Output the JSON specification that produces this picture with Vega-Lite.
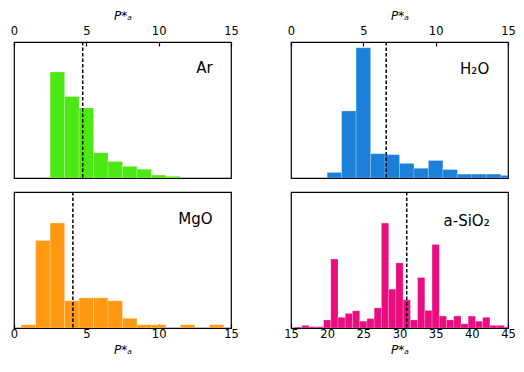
{
  "$schema": "https://vega.github.io/schema/vega-lite/v6.json",
  "padding": {"left": 9, "top": 8, "right": 0, "bottom": 0},
  "background": "white",
  "config": {
    "view": {"stroke": "black", "strokeWidth": 1.2},
    "font": "DejaVu Sans",
    "axis": {"labelColor": "black", "titleColor": "black", "labelFont": "DejaVu Sans", "titleFont": "DejaVu Sans", "labelFontSize": 11.5, "titleFontSize": 12, "titleFontWeight": "normal", "titleFontStyle": "italic", "labelFlush": false, "tickSize": -4, "tickColor": "black", "tickWidth": 1.2, "domain": false, "grid": false}
  },
  "datasets": {
    "bars": [
      {"panel": "Ar", "lo": 2.5, "hi": 3.5, "h": 109},
      {"panel": "Ar", "lo": 3.5, "hi": 4.5, "h": 84},
      {"panel": "Ar", "lo": 4.5, "hi": 5.5, "h": 72},
      {"panel": "Ar", "lo": 5.5, "hi": 6.5, "h": 26},
      {"panel": "Ar", "lo": 6.5, "hi": 7.5, "h": 17},
      {"panel": "Ar", "lo": 7.5, "hi": 8.5, "h": 12},
      {"panel": "Ar", "lo": 8.5, "hi": 9.5, "h": 9},
      {"panel": "Ar", "lo": 9.5, "hi": 10.5, "h": 3},
      {"panel": "Ar", "lo": 10.5, "hi": 11.5, "h": 1.7},
      {"panel": "H2O", "lo": 2.5, "hi": 3.5, "h": 5.7},
      {"panel": "H2O", "lo": 3.5, "hi": 4.5, "h": 69},
      {"panel": "H2O", "lo": 4.5, "hi": 5.5, "h": 134},
      {"panel": "H2O", "lo": 5.5, "hi": 6.5, "h": 25},
      {"panel": "H2O", "lo": 6.5, "hi": 7.5, "h": 24},
      {"panel": "H2O", "lo": 7.5, "hi": 8.5, "h": 15},
      {"panel": "H2O", "lo": 8.5, "hi": 9.5, "h": 10},
      {"panel": "H2O", "lo": 9.5, "hi": 10.5, "h": 18},
      {"panel": "H2O", "lo": 10.5, "hi": 11.5, "h": 8.7},
      {"panel": "H2O", "lo": 11.5, "hi": 12.5, "h": 4},
      {"panel": "H2O", "lo": 12.5, "hi": 13.5, "h": 4},
      {"panel": "H2O", "lo": 13.5, "hi": 14.5, "h": 4},
      {"panel": "H2O", "lo": 14.5, "hi": 15.5, "h": 2.7},
      {"panel": "MgO", "lo": 0.5, "hi": 1.5, "h": 3.3},
      {"panel": "MgO", "lo": 1.5, "hi": 2.5, "h": 90},
      {"panel": "MgO", "lo": 2.5, "hi": 3.5, "h": 108},
      {"panel": "MgO", "lo": 3.5, "hi": 4.5, "h": 28},
      {"panel": "MgO", "lo": 4.5, "hi": 5.5, "h": 31},
      {"panel": "MgO", "lo": 5.5, "hi": 6.5, "h": 31},
      {"panel": "MgO", "lo": 6.5, "hi": 7.5, "h": 28},
      {"panel": "MgO", "lo": 7.5, "hi": 8.5, "h": 10},
      {"panel": "MgO", "lo": 8.5, "hi": 9.5, "h": 3.3},
      {"panel": "MgO", "lo": 9.5, "hi": 10.5, "h": 3.3},
      {"panel": "MgO", "lo": 11.5, "hi": 12.5, "h": 3.3},
      {"panel": "MgO", "lo": 13.5, "hi": 14.5, "h": 3.3},
      {"panel": "SiO2", "lo": 15.5, "hi": 16.5, "h": 1},
      {"panel": "SiO2", "lo": 16.5, "hi": 17.5, "h": 2.7},
      {"panel": "SiO2", "lo": 17.5, "hi": 18.5, "h": 1.3},
      {"panel": "SiO2", "lo": 18.5, "hi": 19.5, "h": 1.3},
      {"panel": "SiO2", "lo": 19.5, "hi": 20.5, "h": 8.3},
      {"panel": "SiO2", "lo": 20.5, "hi": 21.5, "h": 71},
      {"panel": "SiO2", "lo": 21.5, "hi": 22.5, "h": 11},
      {"panel": "SiO2", "lo": 22.5, "hi": 23.5, "h": 15},
      {"panel": "SiO2", "lo": 23.5, "hi": 24.5, "h": 17.7},
      {"panel": "SiO2", "lo": 24.5, "hi": 25.5, "h": 7},
      {"panel": "SiO2", "lo": 25.5, "hi": 26.5, "h": 9.7},
      {"panel": "SiO2", "lo": 26.5, "hi": 27.5, "h": 20.7},
      {"panel": "SiO2", "lo": 27.5, "hi": 28.5, "h": 108},
      {"panel": "SiO2", "lo": 28.5, "hi": 29.5, "h": 40},
      {"panel": "SiO2", "lo": 29.5, "hi": 30.5, "h": 67},
      {"panel": "SiO2", "lo": 30.5, "hi": 31.5, "h": 29},
      {"panel": "SiO2", "lo": 31.5, "hi": 32.5, "h": 8.3},
      {"panel": "SiO2", "lo": 32.5, "hi": 33.5, "h": 52},
      {"panel": "SiO2", "lo": 33.5, "hi": 34.5, "h": 18},
      {"panel": "SiO2", "lo": 34.5, "hi": 35.5, "h": 86},
      {"panel": "SiO2", "lo": 35.5, "hi": 36.5, "h": 12.3},
      {"panel": "SiO2", "lo": 36.5, "hi": 37.5, "h": 8.3},
      {"panel": "SiO2", "lo": 37.5, "hi": 38.5, "h": 12.3},
      {"panel": "SiO2", "lo": 38.5, "hi": 39.5, "h": 4.3},
      {"panel": "SiO2", "lo": 39.5, "hi": 40.5, "h": 12.3},
      {"panel": "SiO2", "lo": 40.5, "hi": 41.5, "h": 7},
      {"panel": "SiO2", "lo": 41.5, "hi": 42.5, "h": 11},
      {"panel": "SiO2", "lo": 42.5, "hi": 43.5, "h": 2.7},
      {"panel": "SiO2", "lo": 43.5, "hi": 44.5, "h": 2.7},
      {"panel": "SiO2", "lo": 44.5, "hi": 45.5, "h": 1}
    ],
    "info": [
      {"panel": "Ar", "mean": 4.75, "label": "Ar", "lx": 13.73, "ly": 113},
      {"panel": "H2O", "mean": 6.58, "label": "H₂O", "lx": 13.7, "ly": 112},
      {"panel": "MgO", "mean": 4.07, "label": "MgO", "lx": 13.73, "ly": 112},
      {"panel": "SiO2", "mean": 31.0, "label": "a-SiO₂", "lx": 42.47, "ly": 110}
    ]
  },
  "bounds": "flush",
  "columns": 2,
  "spacing": {"row": 14, "column": 60},
  "concat": [
    {
      "width": 217, "height": 136,
      "layer": [
        {"data": {"name": "bars"}, "transform": [{"filter": "datum.panel === 'Ar'"}],
         "mark": {"type": "bar", "color": "#4BE813", "stroke": "#ffffff", "strokeWidth": 0.6, "strokeOpacity": 0.35, "clip": true},
         "encoding": {
           "x": {"field": "lo", "type": "quantitative", "scale": {"domain": [0, 15], "nice": false, "zero": false},
                 "axis": {"orient": "top", "values": [0, 5, 10, 15], "title": "P*ₐ", "labelPadding": 10, "titlePadding": 3, "labelOverlap": false}},
           "x2": {"field": "hi"},
           "y": {"field": "h", "type": "quantitative", "scale": {"domain": [0, 136]}, "axis": null},
           "y2": {"datum": 0}}},
        {"data": {"name": "info"}, "transform": [{"filter": "datum.panel === 'Ar'"}],
         "mark": {"type": "rule", "color": "black", "strokeWidth": 1.5, "strokeDash": [3.5, 2]},
         "encoding": {"x": {"field": "mean", "type": "quantitative"}}},
        {"data": {"name": "info"}, "transform": [{"filter": "datum.panel === 'Ar'"}],
         "mark": {"type": "text", "align": "right", "baseline": "middle", "fontSize": 15, "font": "DejaVu Sans", "color": "black"},
         "encoding": {"x": {"field": "lx", "type": "quantitative"}, "y": {"field": "ly", "type": "quantitative"}, "text": {"field": "label"}}}
      ]
    },
    {
      "width": 217, "height": 136,
      "layer": [
        {"data": {"name": "bars"}, "transform": [{"filter": "datum.panel === 'H2O'"}],
         "mark": {"type": "bar", "color": "#1A80D9", "stroke": "#ffffff", "strokeWidth": 0.6, "strokeOpacity": 0.35, "clip": true},
         "encoding": {
           "x": {"field": "lo", "type": "quantitative", "scale": {"domain": [0, 15], "nice": false, "zero": false},
                 "axis": {"orient": "top", "values": [0, 5, 10, 15], "title": "P*ₐ", "labelPadding": 10, "titlePadding": 3, "labelOverlap": false}},
           "x2": {"field": "hi"},
           "y": {"field": "h", "type": "quantitative", "scale": {"domain": [0, 136]}, "axis": null},
           "y2": {"datum": 0}}},
        {"data": {"name": "info"}, "transform": [{"filter": "datum.panel === 'H2O'"}],
         "mark": {"type": "rule", "color": "black", "strokeWidth": 1.5, "strokeDash": [3.5, 2]},
         "encoding": {"x": {"field": "mean", "type": "quantitative"}}},
        {"data": {"name": "info"}, "transform": [{"filter": "datum.panel === 'H2O'"}],
         "mark": {"type": "text", "align": "right", "baseline": "middle", "fontSize": 15, "font": "DejaVu Sans", "color": "black"},
         "encoding": {"x": {"field": "lx", "type": "quantitative"}, "y": {"field": "ly", "type": "quantitative"}, "text": {"field": "label"}}}
      ]
    },
    {
      "width": 217, "height": 136,
      "layer": [
        {"data": {"name": "bars"}, "transform": [{"filter": "datum.panel === 'MgO'"}],
         "mark": {"type": "bar", "color": "#FF9912", "stroke": "#ffffff", "strokeWidth": 0.6, "strokeOpacity": 0.35, "clip": true},
         "encoding": {
           "x": {"field": "lo", "type": "quantitative", "scale": {"domain": [0, 15], "nice": false, "zero": false},
                 "axis": {"orient": "bottom", "values": [0, 5, 10, 15], "title": "P*ₐ", "labelPadding": 4, "titlePadding": 5, "labelOverlap": false}},
           "x2": {"field": "hi"},
           "y": {"field": "h", "type": "quantitative", "scale": {"domain": [0, 136]}, "axis": null},
           "y2": {"datum": 0}}},
        {"data": {"name": "info"}, "transform": [{"filter": "datum.panel === 'MgO'"}],
         "mark": {"type": "rule", "color": "black", "strokeWidth": 1.5, "strokeDash": [3.5, 2]},
         "encoding": {"x": {"field": "mean", "type": "quantitative"}}},
        {"data": {"name": "info"}, "transform": [{"filter": "datum.panel === 'MgO'"}],
         "mark": {"type": "text", "align": "right", "baseline": "middle", "fontSize": 15, "font": "DejaVu Sans", "color": "black"},
         "encoding": {"x": {"field": "lx", "type": "quantitative"}, "y": {"field": "ly", "type": "quantitative"}, "text": {"field": "label"}}}
      ]
    },
    {
      "width": 217, "height": 136,
      "layer": [
        {"data": {"name": "bars"}, "transform": [{"filter": "datum.panel === 'SiO2'"}],
         "mark": {"type": "bar", "color": "#EB0C80", "stroke": "#ffffff", "strokeWidth": 0.6, "strokeOpacity": 0.35, "clip": true},
         "encoding": {
           "x": {"field": "lo", "type": "quantitative", "scale": {"domain": [15, 45], "nice": false, "zero": false},
                 "axis": {"orient": "bottom", "tickCount": 7, "title": "P*ₐ", "labelPadding": 4, "titlePadding": 5, "labelOverlap": false, "labelSeparation": 0, "labelBound": false, "format": "d"}},
           "x2": {"field": "hi"},
           "y": {"field": "h", "type": "quantitative", "scale": {"domain": [0, 136]}, "axis": null},
           "y2": {"datum": 0}}},
        {"data": {"name": "info"}, "transform": [{"filter": "datum.panel === 'SiO2'"}],
         "mark": {"type": "rule", "color": "black", "strokeWidth": 1.5, "strokeDash": [3.5, 2]},
         "encoding": {"x": {"field": "mean", "type": "quantitative"}}},
        {"data": {"name": "info"}, "transform": [{"filter": "datum.panel === 'SiO2'"}],
         "mark": {"type": "text", "align": "right", "baseline": "middle", "fontSize": 15, "font": "DejaVu Sans", "color": "black"},
         "encoding": {"x": {"field": "lx", "type": "quantitative"}, "y": {"field": "ly", "type": "quantitative"}, "text": {"field": "label"}}}
      ]
    }
  ]
}
